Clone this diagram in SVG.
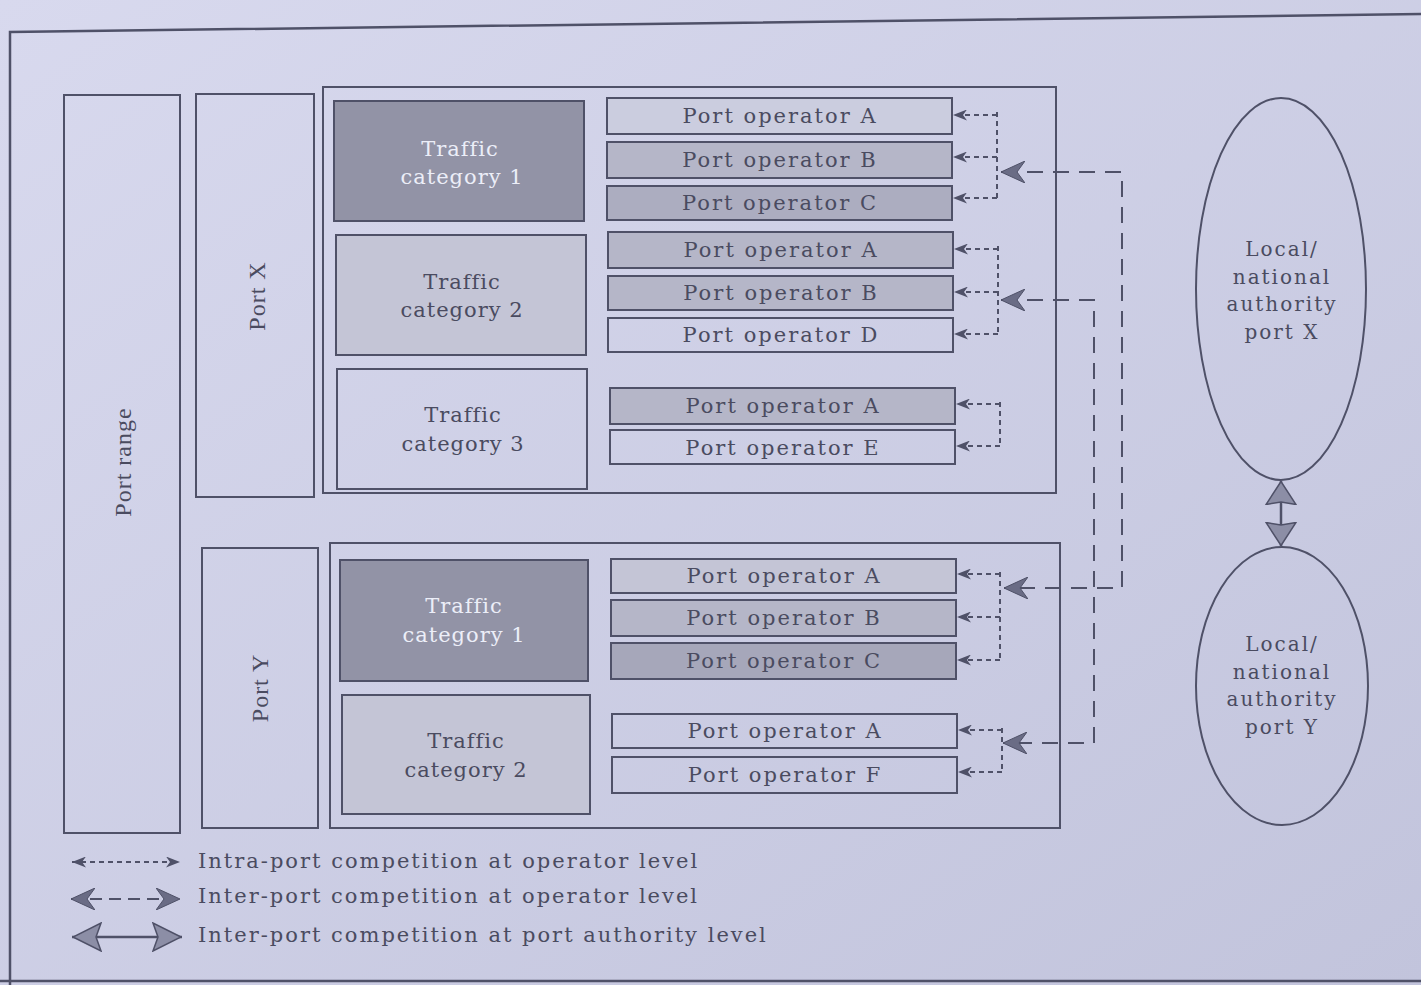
<svg xmlns="http://www.w3.org/2000/svg" width="1421" height="985" viewBox="0 0 1421 985">
<defs>
<linearGradient id="bg" x1="0" y1="0" x2="1" y2="1">
<stop offset="0" stop-color="#d8d9ee"/>
<stop offset="1" stop-color="#c2c4dc"/>
</linearGradient>
<marker id="intra" viewBox="0 0 14 11" refX="14" refY="5.5" markerWidth="14" markerHeight="11" markerUnits="userSpaceOnUse" orient="auto-start-reverse">
<path d="M14,5.5 L0,0 L4,5.5 L0,11 Z" fill="#4f5168"/>
</marker>
<marker id="inter" viewBox="0 0 24 22" refX="24" refY="11" markerWidth="24" markerHeight="22" markerUnits="userSpaceOnUse" orient="auto-start-reverse">
<path d="M24,11 L0,0 L8,11 L0,22 Z" fill="#6a6c85" stroke="#4f5168" stroke-width="1"/>
</marker>
<marker id="auth" viewBox="0 0 24 32" refX="24" refY="16" markerWidth="24" markerHeight="32" markerUnits="userSpaceOnUse" orient="auto-start-reverse">
<path d="M23.5,16 L0.5,1 L3,16 L0.5,31 Z" fill="#8c8ea6" stroke="#4f5168" stroke-width="1.5"/>
</marker>
<marker id="authleg" viewBox="0 0 30 30" refX="30" refY="15" markerWidth="30" markerHeight="30" markerUnits="userSpaceOnUse" orient="auto-start-reverse">
<path d="M29,15 L1,1 L6,15 L1,29 Z" fill="#8c8ea6" stroke="#4f5168" stroke-width="1.5"/>
</marker>
<style>
.box{fill:none;stroke:#4f5168;stroke-width:2}
.dark{fill:#9293a6;stroke:#4f5168;stroke-width:2}
.mid{fill:#b5b6c8;stroke:#4f5168;stroke-width:2}
.light{fill:#c4c5d6;stroke:#4f5168;stroke-width:2}
.pale{fill:#cbcddf;stroke:#4f5168;stroke-width:2}
.lbl{font-family:"DejaVu Serif",serif;font-size:21px;fill:#4a4b60;text-anchor:middle;letter-spacing:1px}
.wlbl{font-family:"DejaVu Serif",serif;font-size:21px;fill:#eceef8;text-anchor:middle;letter-spacing:1px}
.op{font-family:"DejaVu Serif",serif;font-size:21px;fill:#4a4b60;text-anchor:middle;letter-spacing:2px}
.vert{font-family:"Liberation Serif",serif;font-size:24px;fill:#4a4b60;text-anchor:middle;letter-spacing:1px}
.auth{font-family:"DejaVu Serif",serif;font-size:20px;fill:#4a4b60;text-anchor:middle;letter-spacing:2px}
.leg{font-family:"DejaVu Serif",serif;font-size:21px;fill:#4a4b60;letter-spacing:2px}
.intra{fill:none;stroke:#4f5168;stroke-width:2;stroke-dasharray:5 4}
.interl{fill:none;stroke:#4f5168;stroke-width:2;stroke-dasharray:16 10}
</style>
</defs>
<rect width="1421" height="985" fill="url(#bg)"/>
<g id="frame">
<path d="M10,985 L10,32 L1421,14" fill="none" stroke="#4f5168" stroke-width="2.5"/>
<path d="M0,981 L1421,981" fill="none" stroke="#4f5168" stroke-width="2.5"/>
</g>
<g id="port-range">
<rect class="box" x="64" y="95" width="116" height="738"/>
<text class="vert" transform="translate(131,462) rotate(-90)">Port range</text>
</g>
<g id="port-x">
<rect class="box" x="196" y="94" width="118" height="403"/>
<text class="vert" transform="translate(265,296) rotate(-90)">Port X</text>
</g>
<g id="port-y">
<rect class="box" x="202" y="548" width="116" height="280"/>
<text class="vert" transform="translate(268,688) rotate(-90)">Port Y</text>
</g>
<g id="port-x-container">
<rect class="box" x="323" y="87" width="733" height="406"/>
</g>
<g id="port-y-container">
<rect class="box" x="330" y="543" width="730" height="285"/>
</g>
<g id="x-cat1">
<rect class="dark" x="334" y="101" width="250" height="120"/>
<text class="wlbl" x="460" y="156">Traffic</text>
<text class="wlbl" x="462" y="184">category 1</text>
</g>
<g id="x-cat2">
<rect class="light" x="336" y="235" width="250" height="120"/>
<text class="lbl" x="462" y="289">Traffic</text>
<text class="lbl" x="462" y="317">category 2</text>
</g>
<g id="x-cat3">
<rect class="box" x="337" y="369" width="250" height="120"/>
<text class="lbl" x="463" y="422">Traffic</text>
<text class="lbl" x="463" y="451">category 3</text>
</g>
<g id="y-cat1">
<rect class="dark" x="340" y="560" width="248" height="121"/>
<text class="wlbl" x="464" y="613">Traffic</text>
<text class="wlbl" x="464" y="642">category 1</text>
</g>
<g id="y-cat2">
<rect class="light" x="342" y="695" width="248" height="119"/>
<text class="lbl" x="466" y="748">Traffic</text>
<text class="lbl" x="466" y="777">category 2</text>
</g>
<g id="x1-opA"><rect class="pale" x="607" y="98" width="345" height="36"/><text class="op" x="780" y="123">Port operator A</text></g>
<g id="x1-opB"><rect class="mid" x="607" y="142" width="345" height="36"/><text class="op" x="780" y="167">Port operator B</text></g>
<g id="x1-opC"><rect class="mid" x="607" y="186" width="345" height="34" style="fill:#acadc0"/><text class="op" x="780" y="210">Port operator C</text></g>
<g id="x2-opA"><rect class="mid" x="608" y="232" width="345" height="36"/><text class="op" x="781" y="257">Port operator A</text></g>
<g id="x2-opB"><rect class="mid" x="608" y="276" width="345" height="34"/><text class="op" x="781" y="300">Port operator B</text></g>
<g id="x2-opD"><rect class="box" x="608" y="318" width="345" height="34"/><text class="op" x="781" y="342">Port operator D</text></g>
<g id="x3-opA"><rect class="mid" x="610" y="388" width="345" height="36"/><text class="op" x="783" y="413">Port operator A</text></g>
<g id="x3-opE"><rect class="box" x="610" y="430" width="345" height="34"/><text class="op" x="783" y="455">Port operator E</text></g>
<g id="y1-opA"><rect class="light" x="611" y="559" width="345" height="34"/><text class="op" x="784" y="583">Port operator A</text></g>
<g id="y1-opB"><rect class="mid" x="611" y="600" width="345" height="36"/><text class="op" x="784" y="625">Port operator B</text></g>
<g id="y1-opC"><rect class="mid" x="611" y="643" width="345" height="36" style="fill:#a6a7ba"/><text class="op" x="784" y="668">Port operator C</text></g>
<g id="y2-opA"><rect class="box" x="612" y="714" width="345" height="34"/><text class="op" x="785" y="738">Port operator A</text></g>
<g id="y2-opF"><rect class="box" x="612" y="757" width="345" height="36"/><text class="op" x="785" y="782">Port operator F</text></g>
<g id="authority-x">
<ellipse class="box" cx="1281" cy="289" rx="85" ry="191"/>
<text class="auth" x="1282" y="256">Local/</text>
<text class="auth" x="1282" y="284">national</text>
<text class="auth" x="1282" y="311">authority</text>
<text class="auth" x="1282" y="339">port X</text>
</g>
<g id="authority-y">
<ellipse class="box" cx="1282" cy="686" rx="86" ry="139"/>
<text class="auth" x="1282" y="651">Local/</text>
<text class="auth" x="1282" y="679">national</text>
<text class="auth" x="1282" y="706">authority</text>
<text class="auth" x="1282" y="734">port Y</text>
</g>
<g id="connectors">
<path class="intra" d="M997,112 V198"/>
<path class="intra" d="M997,115 H953" marker-end="url(#intra)"/>
<path class="intra" d="M997,157 H953" marker-end="url(#intra)"/>
<path class="intra" d="M997,198 H953" marker-end="url(#intra)"/>
<path class="intra" d="M998,246 V334"/>
<path class="intra" d="M998,249 H954" marker-end="url(#intra)"/>
<path class="intra" d="M998,292 H954" marker-end="url(#intra)"/>
<path class="intra" d="M998,334 H954" marker-end="url(#intra)"/>
<path class="intra" d="M1000,402 V446"/>
<path class="intra" d="M1000,404 H956" marker-end="url(#intra)"/>
<path class="intra" d="M1000,446 H956" marker-end="url(#intra)"/>
<path class="intra" d="M1000,572 V660"/>
<path class="intra" d="M1000,574 H957" marker-end="url(#intra)"/>
<path class="intra" d="M1000,617 H957" marker-end="url(#intra)"/>
<path class="intra" d="M1000,660 H957" marker-end="url(#intra)"/>
<path class="intra" d="M1002,728 V772"/>
<path class="intra" d="M1002,730 H958" marker-end="url(#intra)"/>
<path class="intra" d="M1002,772 H958" marker-end="url(#intra)"/>
<path class="interl" d="M1001,172 H1122 V588 H1004" marker-start="url(#inter)" marker-end="url(#inter)"/>
<path class="interl" d="M1001,300 H1094 V743 H1003" marker-start="url(#inter)" marker-end="url(#inter)"/>
<path d="M1281,481 V546" fill="none" stroke="#4f5168" stroke-width="2.5" marker-start="url(#auth)" marker-end="url(#auth)"/>
</g>
<g id="legend">
<path class="intra" d="M72,862 H180" marker-start="url(#intra)" marker-end="url(#intra)"/>
<path class="interl" d="M71,899 H180" style="stroke-dasharray:12 7" marker-start="url(#inter)" marker-end="url(#inter)"/>
<path d="M72,937 H182" fill="none" stroke="#4f5168" stroke-width="2.5" marker-start="url(#authleg)" marker-end="url(#authleg)"/>
<text class="leg" x="198" y="868">Intra-port competition at operator level</text>
<text class="leg" x="198" y="903">Inter-port competition at operator level</text>
<text class="leg" x="198" y="942">Inter-port competition at port authority level</text>
</g>
</svg>
